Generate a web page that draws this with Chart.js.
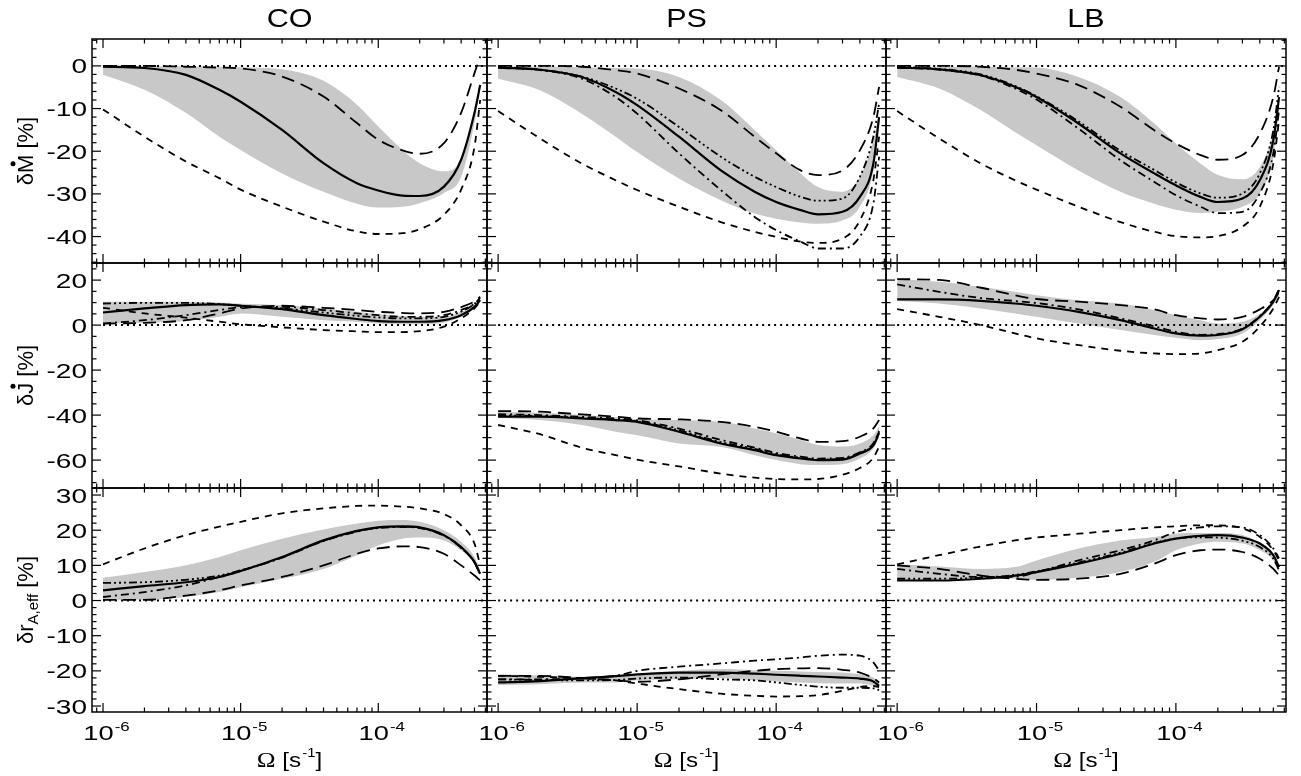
<!DOCTYPE html>
<html>
<head>
<meta charset="utf-8">
<script src="https://cdn.jsdelivr.net/npm/chart.js@4.4.0/dist/chart.umd.min.js"></script>
<style>
html, body { margin: 0; padding: 0; background: #fff; }
#wrap { position: relative; width: 1301px; height: 776px; }
#wrap canvas { position: absolute; left: 0; top: 0; }
</style>
</head>
<body>
<div id="wrap"></div>
<script>
// rotation rate grid (s^-1), shared by every curve
var omega = [1e-6, 2e-6, 4e-6, 7e-6, 1e-5, 2e-5, 4e-5, 7e-5, 1e-4, 1.5e-4, 2e-4, 3e-4, 4e-4, 5e-4, 5.5e-4];

var columnTitles = ['CO', 'PS', 'LB'];
var xTickExps = [-6, -5, -4];

// --- dM/dt [%] ---
var coMdotSolid = [-0.2, -0.5, -2.1, -5.6, -8.4, -15, -22.8, -27.5, -29.2, -30.4, -30.5, -28.3, -22, -11, -4.5];
var coMdotLong = [0, 0, -0.2, -0.4, -0.6, -2.5, -7.2, -13.4, -17.3, -19.8, -20.6, -18.1, -11, -1.7, 2.2];
var coMdotShort = [-10.2, -16.6, -22.4, -26.3, -29, -33, -36.5, -38.8, -39.4, -39.2, -38.3, -34.9, -29, -19, -8];
var coMdotBandHi = [-0.1, -0.1, -0.1, -0.2, -0.3, -0.8, -3.5, -9.1, -14.2, -19.7, -22.8, -24.7, -21.8, -10.5, -4];
var coMdotBandLo = [-2.1, -5.6, -11, -16.6, -19.7, -25.2, -29.5, -32.3, -33.2, -33, -32.2, -29.8, -26, -13.4, -5.6];

var psMdotSolid = [-0.4, -0.9, -2.6, -6.1, -9.2, -16.6, -24.5, -29.5, -31.9, -33.8, -34.8, -34.2, -30.7, -22.9, -12];
var psMdotLong = [0, 0, -0.2, -1, -1.8, -5.3, -10.4, -16.6, -20.5, -24.5, -25.6, -24.5, -19.8, -12, -4.9];
var psMdotDashDot3 = [-0.2, -0.9, -2.5, -5.3, -7.7, -14.3, -21.3, -26, -28.4, -30.7, -31.6, -31.1, -26, -16.6, -8.8];
var psMdotDashDot = [-0.4, -1, -3, -7.3, -11.2, -20.5, -29.1, -35.4, -38.5, -41.2, -42.8, -42.8, -40, -32.3, -21.3];
var psMdotShort = [-10.6, -17, -22.9, -26.8, -29.1, -33, -36.6, -38.9, -40.1, -41.2, -41.5, -40.5, -36.2, -26.8, -16.6];
var psMdotBandHi = [-0.2, -0.2, -0.3, -0.5, -0.6, -2.6, -8, -15, -19.8, -25.2, -28.4, -29.5, -26, -17.5, -11];
var psMdotBandLo = [-3, -5.7, -11.2, -16.6, -20.2, -26.4, -31.5, -34.6, -35.8, -36.7, -37, -36.2, -33, -24.5, -13.5];

var lbMdotSolid = [-0.4, -0.8, -2.2, -4.9, -7.3, -13.5, -20.5, -25.2, -28, -30.7, -31.9, -31.1, -26.8, -17.4, -7.3];
var lbMdotLong = [0, 0, -0.2, -0.9, -1.8, -4.5, -9.6, -15.1, -18.2, -20.9, -22, -20.9, -15.9, -7.3, -0.2];
var lbMdotDashDot3 = [-0.2, -0.7, -2, -4.7, -7.1, -13, -19.9, -24.4, -27.3, -29.9, -30.9, -29.9, -25.2, -15.1, -4.9];
var lbMdotDashDot = [-0.4, -0.9, -2.3, -5.3, -7.9, -14.7, -22.1, -27.2, -30.3, -33, -34.5, -34.2, -29.9, -20.5, -10.4];
var lbMdotShort = [-10.6, -17, -22.9, -26.8, -29, -33, -36.6, -38.9, -39.9, -40.2, -39.9, -37.7, -33, -22.9, -12.7];
var lbMdotBandHi = [-0.2, -0.2, -0.2, -0.3, -0.4, -2.6, -7.3, -13.5, -18.2, -22.9, -25.6, -26.6, -23.7, -15.5, -7];
var lbMdotBandLo = [-2.6, -5.3, -10.4, -15.5, -18.6, -24.5, -29.5, -32.3, -33.7, -34.5, -34.2, -33, -29.9, -21.3, -10.4];

// --- dJ/dt [%] ---
var coJdotSolid = [5.6, 7.4, 8.9, 9.2, 8.6, 7.1, 4.4, 2.7, 1.8, 1.5, 1.5, 2.2, 4.4, 8.1, 11.1];
var coJdotLong = [0.7, 1, 2.2, 5.2, 7.4, 8.6, 7.7, 6.7, 5.9, 5.4, 5.2, 5.9, 8, 10.5, 12.6];
var coJdotShort = [7.7, 5.2, 3.3, 1.5, 0.4, -1, -2.2, -2.8, -3.1, -3.1, -2.7, -0.7, 3, 7.4, 10.4];
var coJdotDashDot3 = [9.6, 9.9, 9.9, 9.3, 8.6, 7.4, 5.6, 4.1, 3.4, 3, 3, 3.7, 6, 9.5, 12];
var coJdotDashDot = [0.7, 2.2, 4.4, 6.7, 7.9, 8.1, 6.7, 5.2, 4.4, 3.7, 3.7, 4.4, 6.7, 9.5, 12];
var coJdotBandHi = [10.4, 10.4, 10.4, 10, 9.5, 8.9, 7.4, 5.9, 4.8, 4, 3.7, 3.7, 5.9, 8.9, 11.5];
var coJdotBandLo = [0.7, 1, 1.8, 3.7, 5.2, 3.7, 2.2, 1.5, 0.7, 0.4, 0.4, 1.2, 3.7, 7.4, 10.5];

var psJdotSolid = [-40.7, -40.7, -41.5, -42.2, -43, -47.4, -52.6, -55.6, -57.8, -59.3, -60, -59.8, -57.1, -53.5, -48];
var psJdotLong = [-38.2, -38.5, -39.7, -40.7, -41.5, -41.9, -43, -45.2, -47.4, -50.4, -51.9, -51.6, -49.6, -45.9, -42.2];
var psJdotDashDot = [-39.6, -40, -40.8, -41.5, -42.3, -46, -51, -54.5, -56.8, -58.5, -59.3, -59, -56.5, -52.5, -47];
var psJdotDashDot3 = [-40.2, -40.4, -41.2, -42, -42.8, -46.8, -52, -55, -57.3, -59, -59.7, -59.4, -56.8, -53, -47.5];
var psJdotShort = [-44.4, -48.5, -54.5, -57.8, -59.8, -62.8, -66, -67.8, -68.4, -68.6, -68.4, -66.5, -63.5, -59, -54];
var psJdotBandHi = [-38.5, -39, -40, -41, -41.8, -42.2, -43, -45.9, -48.1, -51.1, -53.3, -54, -52.6, -48.9, -45.2];
var psJdotBandLo = [-41.2, -42.2, -44.4, -47.4, -48.9, -52.6, -54.1, -57.8, -60, -61.8, -62.2, -61.8, -59.3, -54.8, -50];

var lbJdotSolid = [11.4, 11.4, 10.8, 9.6, 8.6, 5.9, 2.2, -1.5, -3.7, -4.7, -4.4, -1.8, 3.7, 10.4, 15.6];
var lbJdotLong = [20.4, 20.1, 16.6, 13.3, 11.6, 10.4, 8.9, 7, 4.4, 3, 2.5, 3.7, 7, 11.1, 14.5];
var lbJdotDashDot = [18.1, 14.8, 12, 10.7, 9.8, 7, 3, -0.5, -3, -4.3, -4, -1.5, 4, 10.8, 16];
var lbJdotShort = [7.1, 3.7, 0, -3.7, -5.9, -8.9, -11.4, -12.6, -12.9, -12.6, -11.1, -7.4, -0.7, 7.4, 12.6];
var lbJdotBandHi = [20.4, 19.3, 17, 14.8, 13.3, 11.1, 9.6, 6.7, 4.4, 2.2, 0.7, 1.5, 5, 10.4, 15];
var lbJdotBandLo = [10.7, 9.6, 7.4, 5.2, 3.7, 0.7, -2.2, -4.4, -5.6, -6.7, -6.2, -3.7, 2.2, 9, 13.5];

// --- r_A,eff [%] ---
var coRaSolid = [2.9, 4.1, 5.2, 6.7, 8.4, 12.4, 17.1, 19.8, 20.8, 21.1, 20.8, 18.6, 15.2, 11, 7.6];
var coRaLong = [0.2, 0.2, 1.4, 2.9, 4.3, 6.7, 10, 13.3, 14.8, 15.4, 15.2, 13.3, 10, 7.1, 5.7];
var coRaShort = [10.3, 14.8, 18.6, 21, 22.4, 24.8, 26.2, 26.9, 27, 26.7, 26.2, 24.6, 21.4, 16.2, 10];
var coRaDashDot3 = [5, 5.2, 5.9, 7.1, 8.6, 12.2, 17, 19.7, 20.7, 21, 20.7, 18.5, 15, 10.8, 7.4];
var coRaDashDot = [1, 2.4, 4.3, 6.7, 8.4, 12.2, 16.9, 19.6, 20.6, 20.9, 20.6, 18.4, 15, 10.8, 7.4];
var coRaBandHi = [6.5, 8.1, 10, 12.4, 14.3, 17.6, 20.2, 21.9, 22.7, 22.9, 22.4, 20, 16.7, 12.4, 8.6];
var coRaBandLo = [0.2, 0.2, 1, 2.4, 3.8, 6.2, 9, 12.9, 15.7, 17.6, 17.9, 17.1, 14.3, 10.5, 7.6];

var psRaSolid = [-23.3, -22.9, -22.1, -21.5, -21, -20.5, -20.5, -20.8, -21.1, -21.4, -21.6, -21.9, -22.2, -23, -24.3];
var psRaLong = [-21.4, -21.4, -22.1, -22.7, -23.1, -22.4, -21, -20, -19.5, -19.3, -19.2, -19.7, -20.5, -22.1, -23.3];
var psRaDashDot = [-22.4, -22.4, -22.1, -21.4, -20, -18.8, -17.9, -17.1, -16.7, -16.2, -15.7, -15.4, -15.7, -17.6, -20];
var psRaDashDot3 = [-22.4, -22.6, -22.7, -22.6, -22.2, -21.9, -22.4, -22.7, -23.3, -24, -24.5, -24.8, -24.8, -25, -25.5];
var psRaShort = [-21.4, -21.7, -22.1, -22.7, -23.6, -25.2, -26.5, -27.1, -27.3, -27.2, -26.9, -25.7, -24.6, -24.3, -24.6];
var psRaBandHi = [-21, -21.3, -21.7, -21.4, -20.8, -20, -19.5, -19.8, -20, -20.2, -20.3, -20.5, -21, -21.9, -23.3];
var psRaBandLo = [-24, -23.8, -23.3, -23.3, -22.7, -22.4, -22.1, -22.7, -23, -23.3, -23.5, -23.6, -23.6, -24.3, -25.2];

var lbRaSolid = [5.7, 5.7, 6.2, 7.1, 8.1, 10.5, 13.3, 16.2, 17.6, 18.4, 18.6, 17.9, 16.2, 12.9, 9.5];
var lbRaLong = [10, 9, 7.1, 6.2, 5.9, 6.2, 7.6, 10.5, 12.9, 14.3, 14.5, 13.8, 11.9, 9, 7.1];
var lbRaShort = [10.3, 12.9, 15.4, 17.1, 17.9, 19, 20, 20.8, 21.1, 21.4, 21.4, 20.5, 18.1, 14.3, 11.4];
var lbRaDashDot = [9, 7.6, 6.7, 6.7, 8.1, 11.4, 14.3, 17.1, 19.5, 20.8, 21.1, 20.8, 18.6, 14.8, 12];
var lbRaDashDot3 = [6.2, 6.2, 6.5, 7.3, 8.3, 10.8, 13.6, 16.4, 17.6, 18, 17.9, 17, 15.2, 11.9, 8.6];
var lbRaBandHi = [10.3, 9.7, 9, 9.5, 11.4, 14.8, 17.1, 18.1, 19, 19.2, 19.2, 18.6, 16.2, 12.9, 9.5];
var lbRaBandLo = [5.7, 5.9, 6.5, 6.2, 5.9, 6.5, 8.1, 11, 14.3, 16.2, 16.7, 16.2, 14.3, 11.4, 8.1];

// panel geometry (pixels) and axis setup
var colEdges = [92, 487, 886, 1286];
var rowEdges = [39, 263, 488, 712];
var xMin = Math.pow(10, -6.08), xMax = Math.pow(10, -3.21);
var rowAxes = [
    {min: -46.2, max: 6.3, major: 10, minor: 2},
    {min: -72.4, max: 27.6, major: 20, minor: 5},
    {min: -31.7, max: 32, major: 10, minor: 2}
];

var lineStyles = {
    solid: {w: 2.2, dash: []},
    long: {w: 1.8, dash: [13, 7]},
    short: {w: 1.8, dash: [7, 6]},
    dashdot: {w: 1.8, dash: [8, 4, 2, 4]},
    dashdot3: {w: 1.8, dash: [8, 3, 2, 3, 2, 3, 2, 3]},
    dotted: {w: 2, dash: [2, 4]}
};

var panels = [
    {row: 0, col: 0, band: [coMdotBandHi, coMdotBandLo], lines: [[coMdotSolid, 'solid'], [coMdotLong, 'long'], [coMdotShort, 'short']]},
    {row: 0, col: 1, band: [psMdotBandHi, psMdotBandLo], lines: [[psMdotSolid, 'solid'], [psMdotLong, 'long'], [psMdotDashDot3, 'dashdot3'], [psMdotDashDot, 'dashdot'], [psMdotShort, 'short']]},
    {row: 0, col: 2, band: [lbMdotBandHi, lbMdotBandLo], lines: [[lbMdotSolid, 'solid'], [lbMdotLong, 'long'], [lbMdotDashDot3, 'dashdot3'], [lbMdotDashDot, 'dashdot'], [lbMdotShort, 'short']]},
    {row: 1, col: 0, band: [coJdotBandHi, coJdotBandLo], lines: [[coJdotSolid, 'solid'], [coJdotLong, 'long'], [coJdotShort, 'short'], [coJdotDashDot3, 'dashdot3'], [coJdotDashDot, 'dashdot']]},
    {row: 1, col: 1, band: [psJdotBandHi, psJdotBandLo], lines: [[psJdotSolid, 'solid'], [psJdotLong, 'long'], [psJdotDashDot, 'dashdot'], [psJdotDashDot3, 'dashdot3'], [psJdotShort, 'short']]},
    {row: 1, col: 2, band: [lbJdotBandHi, lbJdotBandLo], lines: [[lbJdotSolid, 'solid'], [lbJdotLong, 'long'], [lbJdotDashDot, 'dashdot'], [lbJdotShort, 'short']]},
    {row: 2, col: 0, band: [coRaBandHi, coRaBandLo], lines: [[coRaSolid, 'solid'], [coRaLong, 'long'], [coRaShort, 'short'], [coRaDashDot3, 'dashdot3'], [coRaDashDot, 'dashdot']]},
    {row: 2, col: 1, band: [psRaBandHi, psRaBandLo], lines: [[psRaSolid, 'solid'], [psRaLong, 'long'], [psRaDashDot, 'dashdot'], [psRaDashDot3, 'dashdot3'], [psRaShort, 'short']]},
    {row: 2, col: 2, band: [lbRaBandHi, lbRaBandLo], lines: [[lbRaSolid, 'solid'], [lbRaLong, 'long'], [lbRaShort, 'short'], [lbRaDashDot, 'dashdot'], [lbRaDashDot3, 'dashdot3']]}
];

var SANS = '"Liberation Sans", "DejaVu Sans", Arial, sans-serif';
var SERIF = '"Liberation Serif", "DejaVu Serif", serif';

function pts(values) {
    return omega.map(function (w, i) { return {x: w, y: values[i]}; });
}

function seg(ctx, x1, y1, x2, y2) {
    ctx.beginPath(); ctx.moveTo(x1, y1); ctx.lineTo(x2, y2); ctx.stroke();
}

// text stretched horizontally by sx (the reference glyphs are wide)
function wideText(ctx, text, x, y, font, sx, align) {
    ctx.save();
    ctx.font = font;
    ctx.textAlign = align || 'left';
    ctx.translate(x, y);
    ctx.scale(sx, 1);
    ctx.fillText(text, 0, 0);
    ctx.restore();
}
function wideWidth(ctx, text, font, sx) {
    ctx.font = font;
    return ctx.measureText(text).width * sx;
}

var framePlugin = {
    id: 'frame',
    afterDraw(chart, args, opts) {
        var ctx = chart.ctx, a = chart.chartArea, xs = chart.scales.x, ys = chart.scales.y;
        var ax = rowAxes[opts.row];
        ctx.save();
        ctx.strokeStyle = '#000';
        ctx.fillStyle = '#000';
        ctx.lineWidth = 1.2;
        ctx.setLineDash([]);

        // x ticks, decades and 2..9
        for (var d = -7; d <= -3; d++) {
            for (var m = 1; m <= 9; m++) {
                var v = m * Math.pow(10, d);
                if (v < xs.min || v > xs.max) continue;
                var px = xs.getPixelForValue(v), len = m == 1 ? 9 : 4.5;
                seg(ctx, px, a.bottom, px, a.bottom - len);
                seg(ctx, px, a.top, px, a.top + len);
            }
        }
        // y ticks
        var kMin = Math.ceil(ax.min / ax.minor), kMax = Math.floor(ax.max / ax.minor);
        for (var k = kMin; k <= kMax; k++) {
            var yv = k * ax.minor;
            var py = ys.getPixelForValue(yv);
            var major = Math.abs(yv % ax.major) < 1e-9;
            var l2 = major ? 9 : 4.5;
            seg(ctx, a.left, py, a.left + l2, py);
            seg(ctx, a.right, py, a.right - l2, py);
        }
        ctx.lineWidth = 1.5;
        ctx.strokeRect(a.left, a.top, a.right - a.left, a.bottom - a.top);

        ctx.textBaseline = 'alphabetic';
        // y tick labels on the left column
        if (opts.col == 0) {
            for (var j = Math.ceil(ax.min / ax.major); j <= Math.floor(ax.max / ax.major); j++) {
                var lv = j * ax.major;
                wideText(ctx, String(lv), a.left - 5, ys.getPixelForValue(lv) + 7.5, '20px ' + SANS, 1.4, 'right');
            }
            drawYTitle(ctx, opts.row, (a.top + a.bottom) / 2);
        }
        // x tick labels and title on the bottom row
        if (opts.row == 2) {
            var bigF = '19.5px ' + SANS, supF = '13px ' + SANS;
            xTickExps.forEach(function (e) {
                var cx = xs.getPixelForValue(Math.pow(10, e));
                var wb = wideWidth(ctx, '10', bigF, 1.4), ws = wideWidth(ctx, String(e), supF, 1.3);
                var x0 = cx - (wb + ws) / 2 + 3;
                wideText(ctx, '10', x0, 740, bigF, 1.4);
                wideText(ctx, String(e), x0 + wb + 1, 731, supF, 1.3);
            });
            var mid = (a.left + a.right) / 2;
            var fO = '22px ' + SERIF, fT = '21px ' + SANS, fS = '13px ' + SANS;
            var wO = wideWidth(ctx, '\u03A9', fO, 1.15);
            var wA = wideWidth(ctx, ' [s', fT, 1.15);
            var wS = wideWidth(ctx, '-1', fS, 1.15);
            var wB = wideWidth(ctx, ']', fT, 1.15);
            var x1 = mid - (wO + wA + wS + wB + 1) / 2;
            wideText(ctx, '\u03A9', x1, 767, fO, 1.15);
            wideText(ctx, ' [s', x1 + wO, 767, fT, 1.15);
            wideText(ctx, '-1', x1 + wO + wA + 1, 757, fS, 1.15);
            wideText(ctx, ']', x1 + wO + wA + wS + 1, 767, fT, 1.15);
        }
        // column titles on the top row
        if (opts.row == 0) {
            wideText(ctx, columnTitles[opts.col], (a.left + a.right) / 2, 26.5, '25px ' + SANS, 1.22, 'center');
        }
        ctx.restore();
    }
};

function drawYTitle(ctx, row, cy) {
    ctx.save();
    ctx.translate(33, cy);
    ctx.rotate(-Math.PI / 2);
    ctx.textAlign = 'left';
    ctx.textBaseline = 'alphabetic';
    var big = '22px ' + SANS, small = '15px ' + SANS;
    if (row < 2) {
        var letter = row == 0 ? 'M' : 'J';
        ctx.font = big;
        var w1 = ctx.measureText('\u03B4').width, w2 = ctx.measureText(letter).width, w3 = ctx.measureText(' [%]').width;
        var x0 = -(w1 + w2 + w3) / 2;
        ctx.fillText('\u03B4', x0, 0);
        ctx.fillText(letter, x0 + w1, 0);
        ctx.fillText(' [%]', x0 + w1 + w2, 0);
        ctx.beginPath();
        ctx.arc(x0 + w1 + w2 / 2 + (row == 1 ? 2 : 0), -20, 2.5, 0, Math.PI * 2);
        ctx.fill();
    } else {
        ctx.font = big;
        var a1 = ctx.measureText('\u03B4r').width, a3 = ctx.measureText(' [%]').width;
        ctx.font = small;
        var a2 = ctx.measureText('A,eff').width;
        var s0 = -(a1 + a2 + a3) / 2;
        ctx.font = big;
        ctx.fillText('\u03B4r', s0, 0);
        ctx.font = small;
        ctx.fillText('A,eff', s0 + a1, 5);
        ctx.font = big;
        ctx.fillText(' [%]', s0 + a1 + a2, 0);
    }
    ctx.restore();
}

var wrap = document.getElementById('wrap');

panels.forEach(function (p) {
    var canvas = document.createElement('canvas');
    canvas.width = 1301;
    canvas.height = 776;
    wrap.appendChild(canvas);
    var ax = rowAxes[p.row];

    var datasets = [];
    datasets.push({data: pts(p.band[0]), borderWidth: 0, pointRadius: 0, backgroundColor: '#c8c8c8',
        fill: '+1', cubicInterpolationMode: 'monotone', order: 10});
    datasets.push({data: pts(p.band[1]), borderWidth: 0, pointRadius: 0, fill: false,
        cubicInterpolationMode: 'monotone', order: 10});
    datasets.push({
        data: [{x: 1e-6, y: 0}, {x: xMax, y: 0}],
        borderColor: '#000', borderWidth: lineStyles.dotted.w, borderDash: lineStyles.dotted.dash,
        pointRadius: 0, fill: false, order: 5
    });
    p.lines.forEach(function (ln) {
        var st = lineStyles[ln[1]];
        datasets.push({
            data: pts(ln[0]), borderColor: '#000', borderWidth: st.w, borderDash: st.dash,
            pointRadius: 0, fill: false, cubicInterpolationMode: 'monotone', order: 1
        });
    });

    new Chart(canvas, {
        type: 'line',
        data: {datasets: datasets},
        plugins: [framePlugin],
        options: {
            responsive: false,
            animation: false,
            devicePixelRatio: 1,
            layout: {
                padding: {
                    left: colEdges[p.col], right: 1301 - colEdges[p.col + 1],
                    top: rowEdges[p.row], bottom: 776 - rowEdges[p.row + 1]
                }
            },
            scales: {
                x: {type: 'logarithmic', min: xMin, max: xMax, display: false},
                y: {type: 'linear', min: ax.min, max: ax.max, display: false}
            },
            plugins: {
                legend: {display: false},
                tooltip: {enabled: false},
                frame: {row: p.row, col: p.col}
            }
        }
    });
});
</script>
</body>
</html>
